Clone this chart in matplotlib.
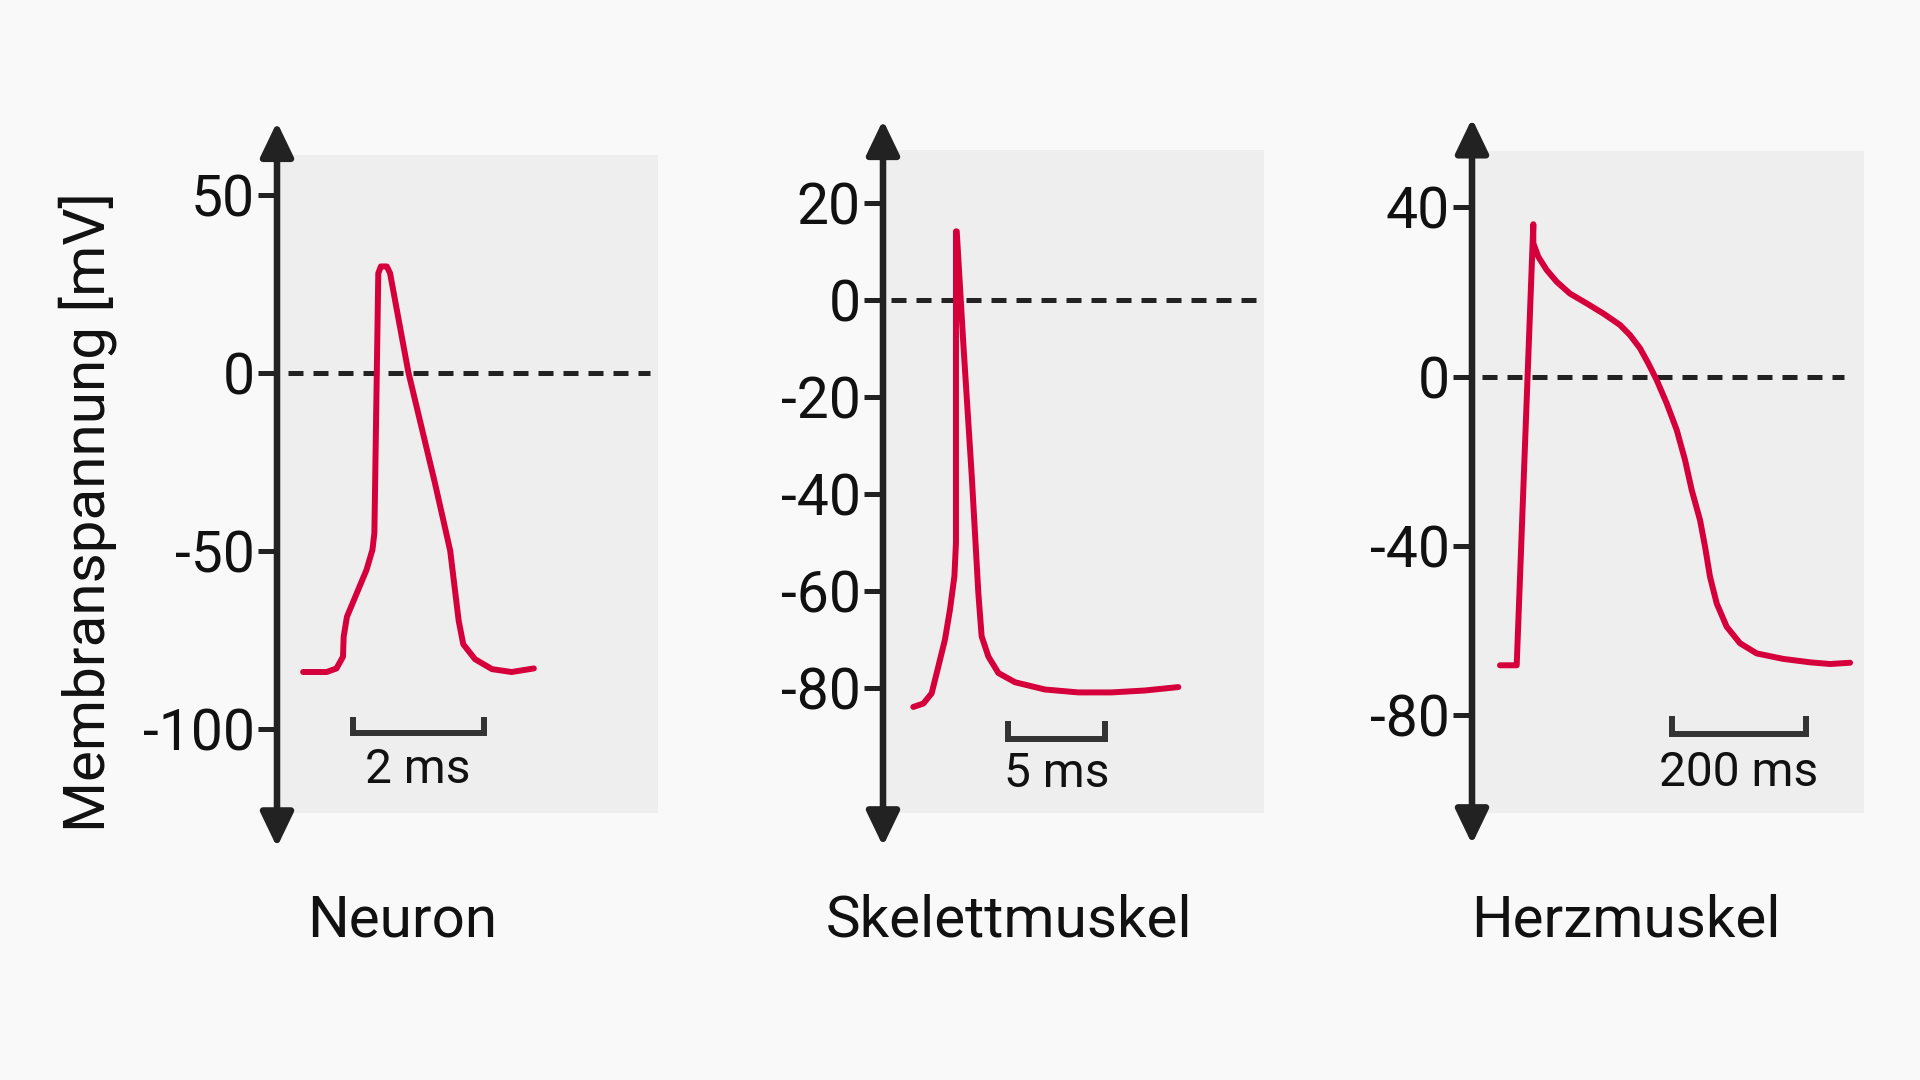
import matplotlib
matplotlib.use("Agg")
import matplotlib.pyplot as plt

plt.rcParams['font.family'] = ['Roboto', 'DejaVu Sans']

# --- data ---
titles = ["Neuron", "Skelettmuskel", "Herzmuskel"]
ylabel = "Membranspannung [mV]"

# Neuron: t in ms, v in mV
neuron_t = [0.40, 0.76, 0.91, 1.01, 1.02, 1.07, 1.22, 1.37, 1.46, 1.49, 1.55, 1.59, 1.68,
            1.73, 2.01, 2.42, 2.65, 2.78, 2.85, 3.03, 3.29, 3.59, 3.93]
neuron_v = [-84.0, -84.0, -83.0, -79.7, -74.1, -68.5, -61.9, -55.3, -49.7, -45.0, 28.0,
            29.9, 29.9, 28.0, 0.2, -31.2, -49.9, -69.6, -76.2, -80.4, -83.2, -84.0, -83.0]
neuron_ticks = [50, 0, -50, -100]
neuron_labels = ["50", "0", "-50", "-100"]

# Skelettmuskel
skel_t = [1.57, 2.09, 2.52, 2.87, 3.21, 3.47, 3.70, 3.78, 3.78, 3.78, 3.82, 4.16, 4.60,
          4.94, 5.11, 5.46, 5.98, 6.84, 8.39, 10.12, 11.85, 13.58, 15.30]
skel_v = [-84.0, -83.3, -81.2, -75.6, -70.1, -63.9, -57.0, -50.1, -22.6, 14.2, 14.2, -8.9,
          -36.4, -60.5, -69.4, -73.6, -77.0, -78.9, -80.4, -81.0, -81.0, -80.6, -79.9]
skel_ticks = [20, 0, -20, -40, -60, -80]
skel_labels = ["20", "0", "-20", "-40", "-60", "-80"]

# Herzmuskel
herz_t = [41.8, 66.7, 91.5, 91.5, 99.0, 111.4, 126.4, 146.3, 171.1, 196.0, 220.9, 235.8,
          250.7, 263.2, 275.6, 290.5, 305.5, 317.9, 327.9, 340.3, 347.8, 355.2, 365.2,
          380.1, 400.0, 424.9, 464.7, 504.5, 534.3, 564.2]
herz_v = [-68.2, -68.2, 36.0, 31.5, 28.3, 25.2, 22.4, 19.6, 17.3, 14.9, 12.2, 9.8, 6.7,
          3.1, -0.8, -6.3, -12.6, -19.7, -26.8, -33.9, -40.2, -47.3, -53.6, -59.1, -63.0,
          -65.4, -66.7, -67.5, -67.9, -67.6]
herz_ticks = [40, 0, -40, -80]
herz_labels = ["40", "0", "-40", "-80"]

scale_len = [2, 5, 200]
scale_text = ["2 ms", "5 ms", "200 ms"]

# --- layout (pixels on 1920x1080) ---
W, H = 1920, 1080
RED = "#d5003b"
DARK = "#222222"
panels = [
    dict(box=(277, 658, 155, 813), xmax=5.83, ylim=(-123.6, 61.2),
         arrow=(-0.052, 1.050), zero=(0.029, 0.98), bar=(1.16, -101.1, -96.6, -111.5),
         title_x=402),
    dict(box=(883, 1264, 150, 813), xmax=19.74, ylim=(-105.9, 31.0),
         arrow=(-0.050, 1.045), zero=(0.021, 0.984), bar=(6.48, -90.6, -86.9, -97.8),
         title_x=1009),
    dict(box=(1472, 1864, 151, 813), xmax=585.0, ylim=(-103.1, 53.3),
         arrow=(-0.047, 1.049), zero=(0.026, 0.95), bar=(298.5, -84.5, -80.2, -93.6),
         title_x=1626),
]
series = [(neuron_t, neuron_v, neuron_ticks, neuron_labels),
          (skel_t, skel_v, skel_ticks, skel_labels),
          (herz_t, herz_v, herz_ticks, herz_labels)]

fig = plt.figure(figsize=(19.2, 10.8), dpi=100, facecolor="#f9f9f9")

for i, p in enumerate(panels):
    x0, x1, top, bot = p["box"]
    ax = fig.add_axes([x0 / W, 1 - bot / H, (x1 - x0) / W, (bot - top) / H])
    ax.set_facecolor("#eeeeee")
    t, v, ticks, labels = series[i]
    ax.set_xlim(0, p["xmax"])
    ax.set_ylim(*p["ylim"])
    for s in ax.spines.values():
        s.set_visible(False)
    ax.set_xticks([])
    ax.set_yticks(ticks)
    ax.set_yticklabels(labels)
    ax.tick_params(axis="y", direction="out", length=14, width=3.6, color=DARK,
                   labelsize=41, labelcolor="#111111", pad=2)

    # vertical axis with arrowheads
    ax.annotate("", xy=(0, p["arrow"][1]), xytext=(0, p["arrow"][0]),
                xycoords="axes fraction", textcoords="axes fraction",
                arrowprops=dict(arrowstyle="<|-|>,head_length=1.5,head_width=0.72",
                                mutation_scale=14, lw=4.7, color=DARK,
                                shrinkA=0, shrinkB=0),
                annotation_clip=False)

    # zero line
    ax.axhline(0, xmin=p["zero"][0], xmax=p["zero"][1], color=DARK, lw=3.6,
               linestyle=(0, (3, 2)))

    # action potential
    ax.plot(t, v, color=RED, lw=4.3, solid_joinstyle="round", solid_capstyle="round")

    # scale bar
    bx, by, btop, ty = p["bar"]
    L = scale_len[i]
    ax.plot([bx, bx, bx + L, bx + L], [btop, by, by, btop], color="#333333", lw=4.3,
            solid_joinstyle="miter", solid_capstyle="butt")
    ax.text(bx + L / 2, ty, scale_text[i], ha="center", va="center", fontsize=34.5,
            color="#111111")

    fig.text(p["title_x"] / W, 1 - 921 / H, titles[i], ha="center", va="center",
             fontsize=42, color="#111111")

fig.text(88 / W, 1 - 512 / H, ylabel, rotation=90, ha="center", va="center",
         fontsize=42, color="#111111")

fig.savefig("out.png", dpi=100, facecolor=fig.get_facecolor())
